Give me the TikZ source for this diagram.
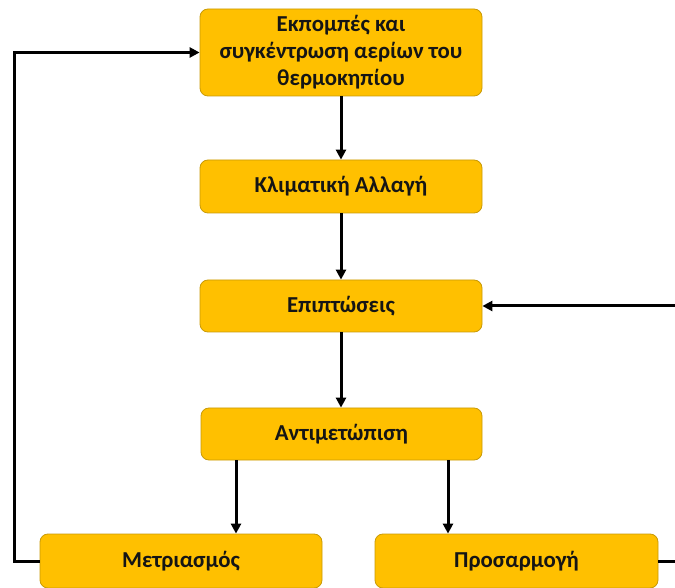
\documentclass[tikz,border=0pt]{standalone}
\usepackage{fontspec}
\setmainfont{Carlito}
\usetikzlibrary{arrows.meta}
\definecolor{boxfill}{HTML}{FFC000}
\definecolor{boxline}{HTML}{C99A06}
\definecolor{ink}{HTML}{151515}
\begin{document}
\begin{tikzpicture}[x=1pt,y=1pt,
  box/.style={draw=boxline, line width=0.8pt, fill=boxfill, rounded corners=8pt,
    minimum width=282pt, inner sep=2pt, align=center, text=ink,
    font=\fontsize{22.8}{27}\selectfont\bfseries},
  arr/.style={line width=3pt, -{Triangle[length=10pt,width=10pt]}}]
\useasboundingbox (0,0) rectangle (675,587);
% main chain
\node[box, minimum height=87pt] (b1) at (341,534.5) {Εκπομπές και\\συγκέντρωση αερίων του\\θερμοκηπίου};
\node[box, minimum height=53pt] (b2) at (341,400.5) {Κλιματική Αλλαγή};
\node[box, minimum height=52pt] (b3) at (341,281) {Επιπτώσεις};
\node[box, minimum height=52pt, minimum width=281pt] (b4) at (341.5,153) {Αντιμετώπιση};
% two responses
\node[box, minimum height=54pt] (b5) at (181,26) {Μετριασμός};
\node[box, minimum height=54pt, minimum width=283pt] (b6) at (516.5,26) {Προσαρμογή};
% guide coordinates for branch and loop lines
\coordinate (m1) at (236,0);
\coordinate (m2) at (448,0);
\coordinate (lx) at (14,0);
\coordinate (rx) at (690,0);
\draw[arr] (b1) -- (b2);
\draw[arr] (b2) -- (b3);
\draw[arr] (b3.south) -- (b3.south |- b4.north);
\draw[arr] (b4.south -| m1) -- (b5.north -| m1);
\draw[arr] (b4.south -| m2) -- (b6.north -| m2);
\draw[arr] (b5.west) -- (b5.west -| lx) |- (b1.west);
\draw[arr] (b6.east) -- (b6.east -| rx) |- (b3.east);
\end{tikzpicture}
\end{document}
